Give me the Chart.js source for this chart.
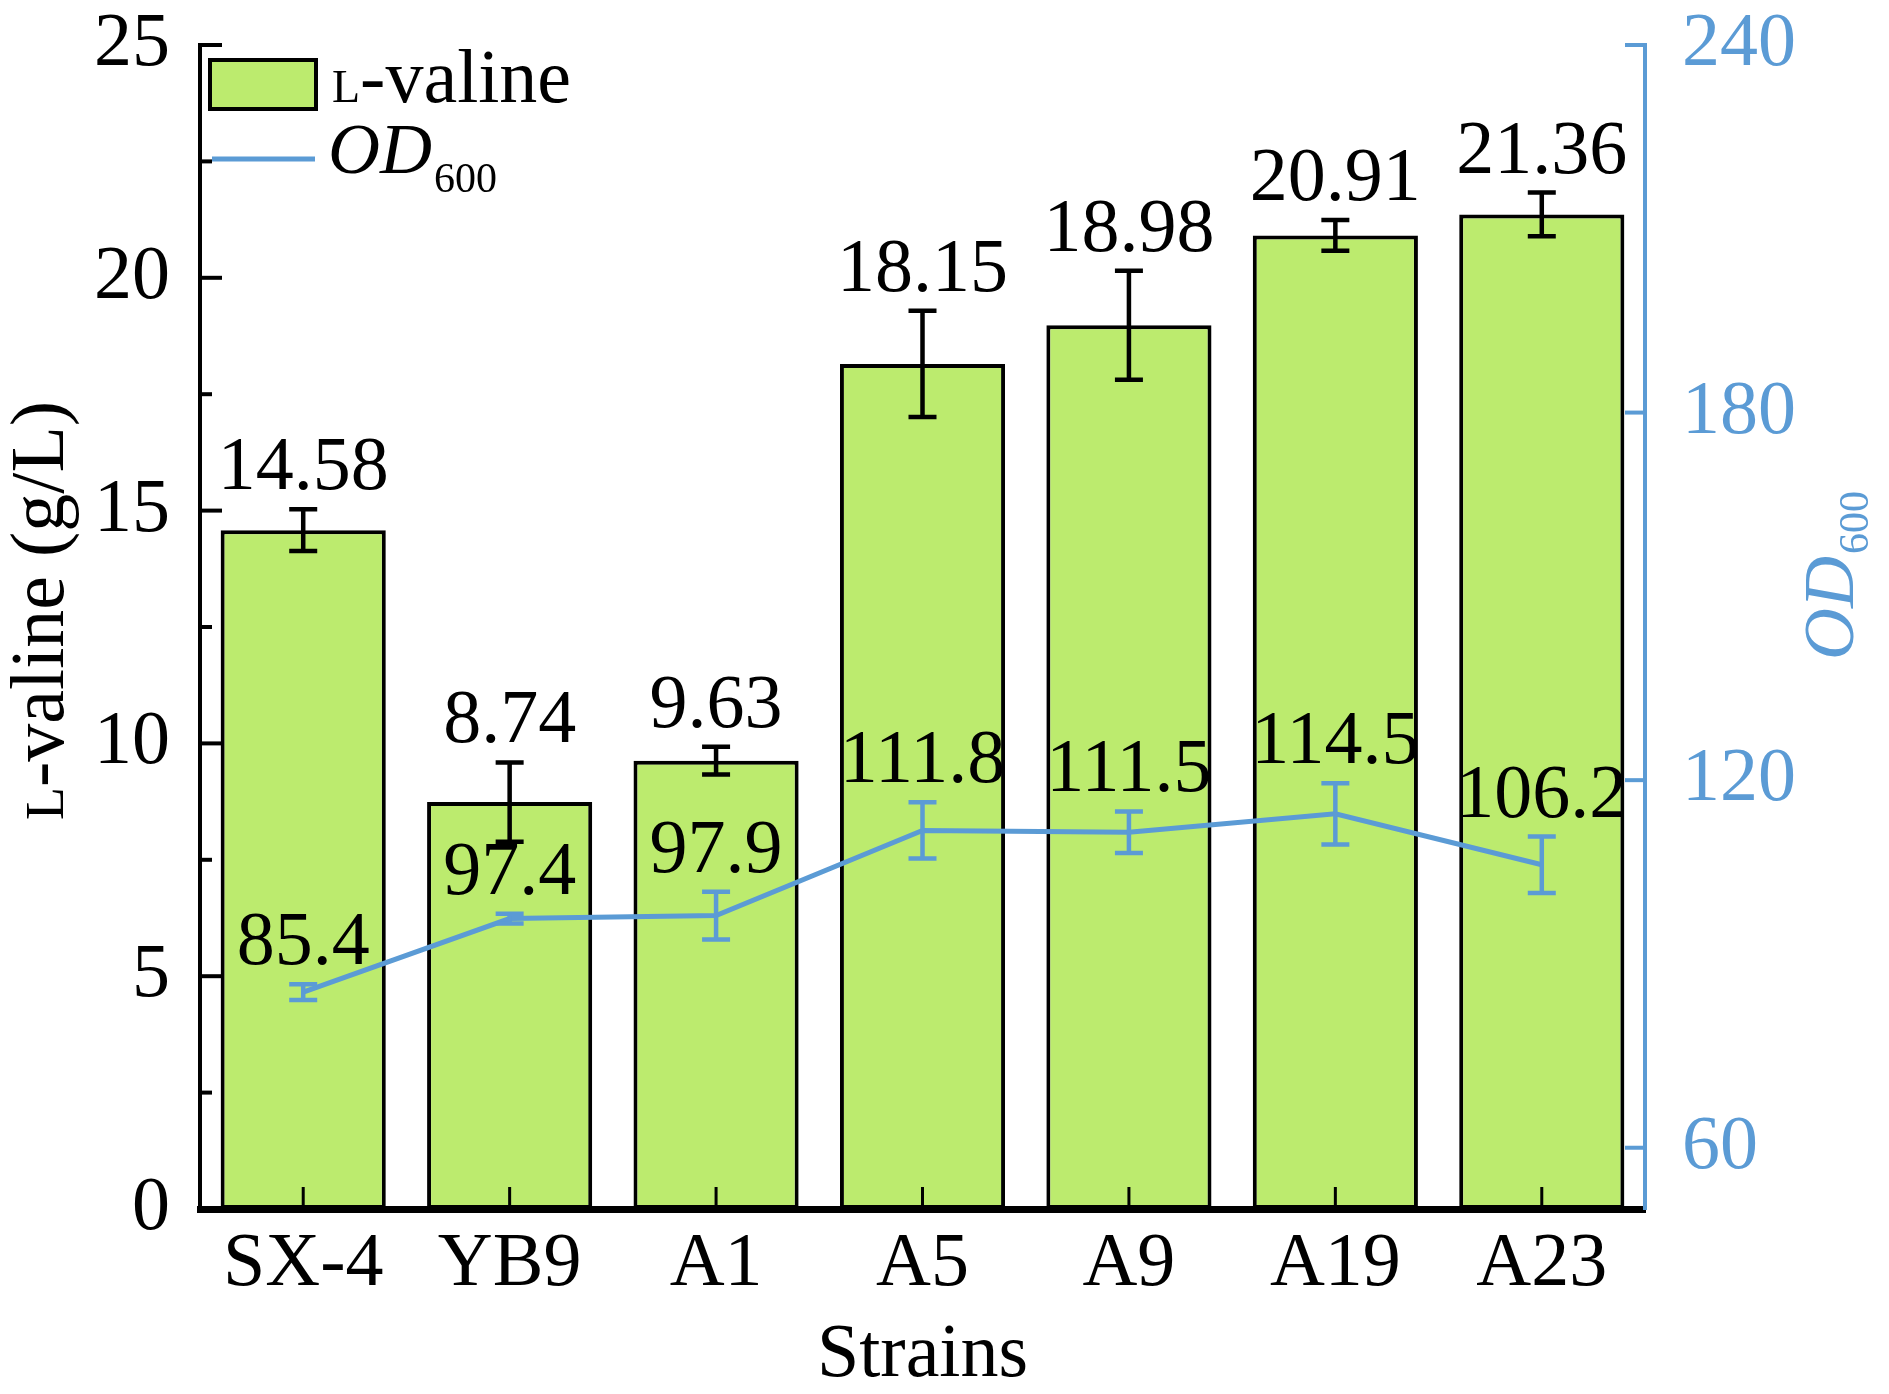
<!DOCTYPE html>
<html>
<head>
<meta charset="utf-8">
<script src="https://cdn.jsdelivr.net/npm/chart.js@4.4.1/dist/chart.umd.min.js"></script>
<style>
  html, body { margin: 0; padding: 0; background: #fff; }
  #wrap { width: 1889px; height: 1394px; }
</style>
</head>
<body>
<div id="wrap"><canvas id="valineChart" width="1889" height="1394"></canvas></div>
<script>
// data
const categories = ['SX-4', 'YB9', 'A1', 'A5', 'A9', 'A19', 'A23'];
const valine = [14.58, 8.74, 9.63, 18.15, 18.98, 20.91, 21.36];
const valineErr = [0.45, 0.85, 0.30, 1.14, 1.17, 0.33, 0.47];
const od600 = [85.4, 97.4, 97.9, 111.8, 111.5, 114.5, 106.2];
const od600Err = [1.3, 0.8, 3.9, 4.6, 3.4, 5.0, 4.6];
const valineTicks = [0, 5, 10, 15, 20, 25];
const odTicks = [60, 120, 180, 240];

const SERIF = "'Liberation Serif', 'Times New Roman', serif";
const GREEN = '#BCEB6E';
const BLUE = '#5B9BD5';

// error bars drawn right after their own dataset
const errorBars = {
    id: 'errorBars',
    afterDatasetDraw(chart, args) {
        const ds = chart.data.datasets[args.index];
        if (!ds.errs) return;
        const meta = args.meta;
        const yScale = chart.scales[meta.yAxisID];
        const c = chart.ctx;
        c.save();
        c.strokeStyle = ds.errColor;
        c.lineWidth = 4.5;
        meta.data.forEach((el, i) => {
            const v = ds.data[i], e = ds.errs[i];
            const x = el.x;
            const yt = yScale.getPixelForValue(v + e);
            const yb = yScale.getPixelForValue(v - e);
            c.beginPath();
            c.moveTo(x, yt); c.lineTo(x, yb);
            c.moveTo(x - 14, yt); c.lineTo(x + 14, yt);
            c.moveTo(x - 14, yb); c.lineTo(x + 14, yb);
            c.stroke();
        });
        c.restore();
    }
};

// value labels above the error bars
const valueLabels = {
    id: 'valueLabels',
    afterDatasetsDraw(chart) {
        const c = chart.ctx;
        c.save();
        c.fillStyle = '#000';
        c.font = '76px ' + SERIF;
        c.textAlign = 'center';
        c.textBaseline = 'alphabetic';
        chart.data.datasets.forEach((ds, di) => {
            const meta = chart.getDatasetMeta(di);
            const yScale = chart.scales[meta.yAxisID];
            meta.data.forEach((el, i) => {
                const v = ds.data[i];
                const y = yScale.getPixelForValue(v + ds.errs[i]) - 20;
                c.fillText(v.toFixed(ds.digits), el.x, y);
            });
        });
        c.restore();
    }
};

// inward ticks, legend and axis titles
const decor = {
    id: 'decor',
    afterDraw(chart) {
        const c = chart.ctx;
        const a = chart.chartArea;
        const ys = chart.scales.y, y2 = chart.scales.y1, xs = chart.scales.x;
        c.save();

        // left axis ticks
        c.strokeStyle = '#000';
        c.lineWidth = 4;
        for (let v = 0; v <= 25; v += 2.5) {
            const y = ys.getPixelForValue(v);
            const len = (v % 5 === 0) ? 22 : 12;
            c.beginPath(); c.moveTo(a.left, y); c.lineTo(a.left + len, y); c.stroke();
        }
        // bottom ticks
        c.lineWidth = 3;
        categories.forEach((_, i) => {
            const x = xs.getPixelForValue(i);
            c.beginPath(); c.moveTo(x, a.bottom); c.lineTo(x, a.bottom - 22); c.stroke();
        });
        // right axis ticks
        c.strokeStyle = BLUE;
        c.lineWidth = 4;
        odTicks.forEach(v => {
            const y = y2.getPixelForValue(v);
            c.beginPath(); c.moveTo(a.right, y); c.lineTo(a.right - 20, y); c.stroke();
        });

        // legend
        c.fillStyle = GREEN;
        c.fillRect(210, 60, 106, 49);
        c.strokeStyle = '#000';
        c.lineWidth = 4;
        c.strokeRect(210, 60, 106, 49);
        c.fillStyle = '#000';
        c.textAlign = 'left';
        c.textBaseline = 'alphabetic';
        c.font = '46px ' + SERIF;
        c.fillText('L', 332, 102);
        let w = c.measureText('L').width;
        c.font = '76px ' + SERIF;
        c.fillText('-valine', 332 + w, 102);

        c.strokeStyle = BLUE;
        c.lineWidth = 5;
        c.beginPath(); c.moveTo(212, 159); c.lineTo(315, 159); c.stroke();
        c.font = 'italic 72px ' + SERIF;
        c.fillText('OD', 328, 173);
        w = c.measureText('OD').width;
        c.font = '42px ' + SERIF;
        c.fillText('600', 328 + w + 2, 192);

        // left title
        c.save();
        c.translate(63, 820);
        c.rotate(-Math.PI / 2);
        c.font = '54px ' + SERIF;
        c.fillText('L', 0, 0);
        w = c.measureText('L').width;
        c.font = '76px ' + SERIF;
        c.fillText('-valine (g/L)', w, 0);
        c.restore();

        // right title
        c.save();
        c.fillStyle = BLUE;
        c.translate(1853, 660);
        c.rotate(-Math.PI / 2);
        c.font = 'italic 72px ' + SERIF;
        c.fillText('OD', 0, 0);
        w = c.measureText('OD').width;
        c.font = '42px ' + SERIF;
        c.fillText('600', w + 2, 15);
        c.restore();

        // bottom title
        c.fillStyle = '#000';
        c.font = '76px ' + SERIF;
        c.textAlign = 'center';
        c.fillText('Strains', (a.left + a.right) / 2, 1376);

        c.restore();
    }
};

function noPad(s) {
    s.paddingTop = 0;
    s.paddingBottom = 0;
    s.paddingLeft = 0;
    s.paddingRight = 0;
}

const ctx = document.getElementById('valineChart');

new Chart(ctx, {
    data: {
        labels: categories,
        datasets: [
            {
                type: 'line',
                label: 'OD600',
                data: od600,
                errs: od600Err,
                errColor: BLUE,
                digits: 1,
                yAxisID: 'y1',
                borderColor: BLUE,
                borderWidth: 5,
                pointRadius: 0,
                tension: 0,
                order: 0
            },
            {
                type: 'bar',
                label: 'L-valine',
                data: valine,
                errs: valineErr,
                errColor: '#000',
                digits: 2,
                yAxisID: 'y',
                backgroundColor: GREEN,
                borderColor: '#000',
                borderWidth: 4,
                borderSkipped: false,
                barPercentage: 0.8,
                categoryPercentage: 1,
                order: 1
            }
        ]
    },
    options: {
        responsive: false,
        devicePixelRatio: 1,
        animation: false,
        layout: { padding: { top: 45, left: 0, right: 0, bottom: 0 } },
        plugins: {
            legend: { display: false },
            tooltip: { enabled: false }
        },
        scales: {
            x: {
                offset: true,
                grid: { display: false, drawTicks: false },
                border: { color: '#000', width: 7 },
                ticks: { color: '#000', font: { family: SERIF, size: 76 }, padding: 10, maxRotation: 0 },
                afterFit: s => { s.height = 185; noPad(s); }
            },
            y: {
                position: 'left',
                min: 0,
                max: 25,
                afterBuildTicks: s => { s.ticks = valineTicks.map(v => ({ value: v })); },
                grid: { display: false, drawTicks: false },
                border: { color: '#000', width: 4 },
                ticks: { color: '#000', font: { family: SERIF, size: 76 }, padding: 30 },
                afterFit: s => { s.width = 200; noPad(s); }
            },
            y1: {
                position: 'right',
                min: 50,
                max: 240,
                afterBuildTicks: s => { s.ticks = odTicks.map(v => ({ value: v })); },
                grid: { display: false, drawTicks: false },
                border: { color: BLUE, width: 4 },
                ticks: { color: BLUE, font: { family: SERIF, size: 76 }, padding: 37 },
                afterFit: s => { s.width = 244; noPad(s); }
            }
        }
    },
    plugins: [errorBars, valueLabels, decor]
});
</script>
</body>
</html>
